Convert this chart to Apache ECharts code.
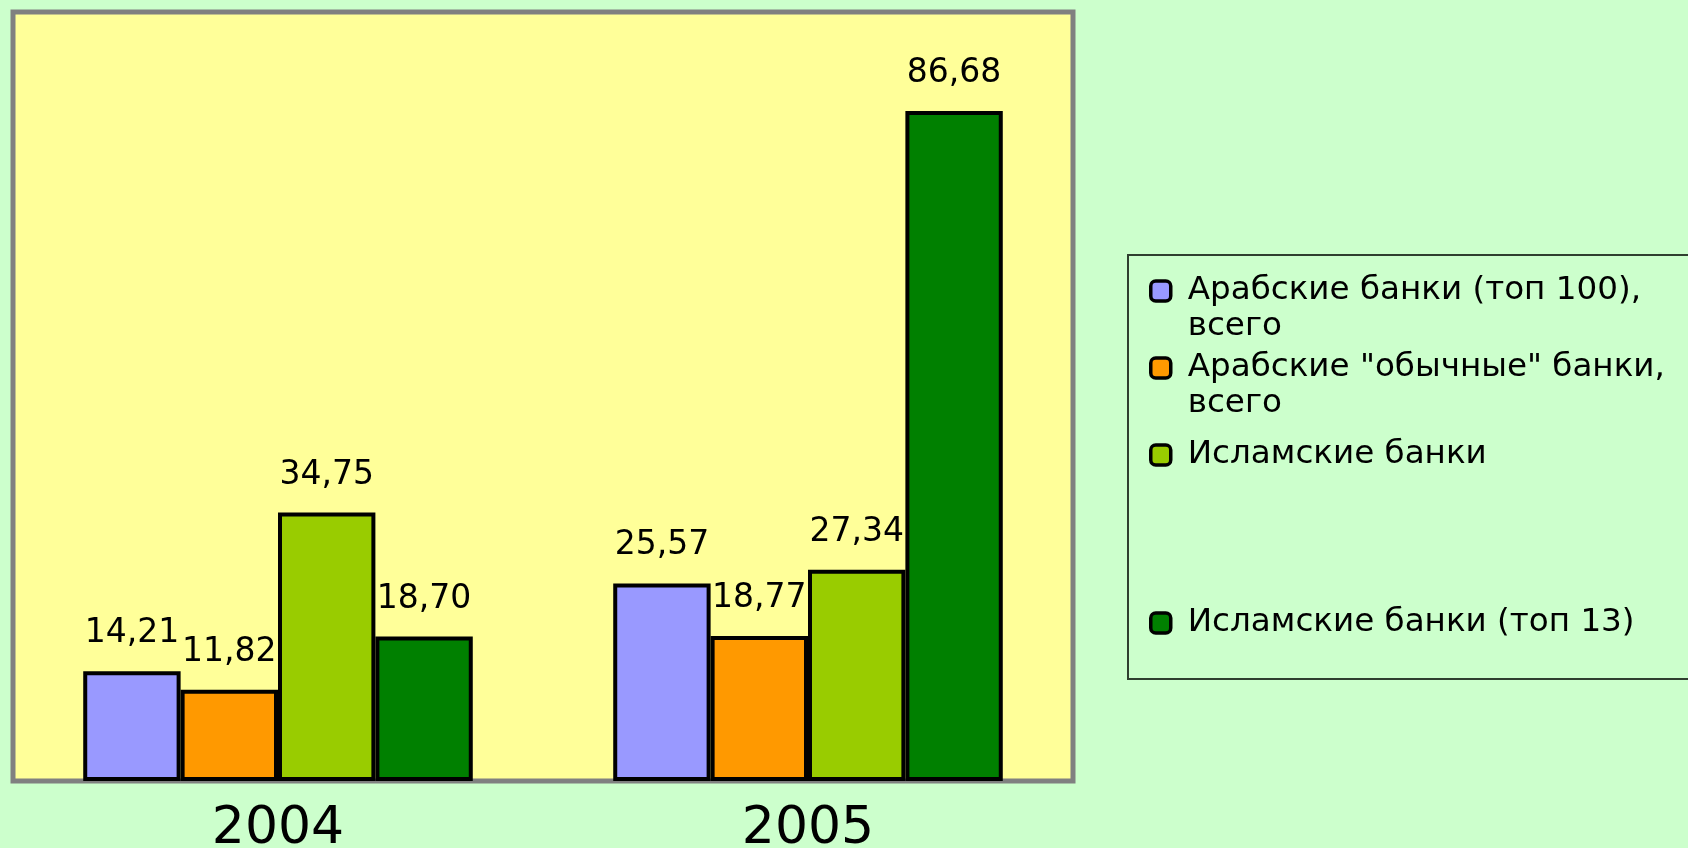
<!DOCTYPE html>
<html>
<head>
<meta charset="utf-8">
<script src="https://cdn.jsdelivr.net/npm/echarts@6/dist/echarts.min.js"></script>
<style>
html,body{margin:0;padding:0;background:#CCFFCC;}
#chart{width:1688px;height:848px;}
</style>
</head>
<body>
<div id="chart"></div>
<script>
const categories = ['2004', '2005'];
const seriesNames = [
  'Арабские банки (топ 100), всего',
  'Арабские "обычные" банки, всего',
  'Исламские банки',
  'Исламские банки (топ 13)'
];
const legendLines = [
  ['Арабские банки (топ 100),', 'всего'],
  ['Арабские "обычные" банки,', 'всего'],
  ['Исламские банки'],
  ['Исламские банки (топ 13)']
];
const arabTop100 = [14.21, 25.57];
const arabRegular = [11.82, 18.77];
const islamic = [34.75, 27.34];
const islamicTop13 = [18.70, 86.68];
const seriesValues = [arabTop100, arabRegular, islamic, islamicTop13];
const colors = ['#9999FF', '#FF9900', '#99CC00', '#008000'];

const FONT = 'DejaVu Sans';
const legendCenters = [291, 368, 455, 623];
const LH = 36;

const chart = echarts.init(document.getElementById('chart'), null, {renderer: 'canvas'});

const legends = seriesNames.map((name, i) => {
  const lines = legendLines[i];
  const multi = lines.length > 1;
  return {
    orient: 'vertical',
    left: 1149,
    top: multi ? legendCenters[i] - 1.5 * LH : legendCenters[i] - LH / 2,
    padding: 0,
    data: [name],
    icon: 'roundRect',
    itemWidth: 20,
    itemHeight: 20,
    itemStyle: {borderColor: '#000', borderWidth: 3.5},
    selectedMode: false,
    formatter: () => multi ? '\n' + lines.join('\n') : lines[0],
    textStyle: {
      fontFamily: FONT,
      fontSize: 32.6,
      lineHeight: LH,
      color: '#000',
      padding: [0, 0, 0, 12]
    }
  };
});

const option = {
  backgroundColor: '#CCFFCC',
  animation: false,
  color: colors,
  legend: legends,
  graphic: [{
    type: 'rect',
    shape: {x: 1128, y: 255, width: 640, height: 424},
    style: {fill: 'none', stroke: '#2F3F2F', lineWidth: 2},
    silent: true
  }],
  grid: {
    left: 13, right: 615, top: 12, bottom: 67,
    outerBoundsMode: 'none',
    containLabel: false,
    show: true,
    backgroundColor: '#FFFF99',
    borderColor: '#808080',
    borderWidth: 5
  },
  xAxis: {
    type: 'category',
    data: categories,
    axisLine: {show: false},
    axisTick: {show: false},
    axisLabel: {fontFamily: FONT, fontSize: 52, color: '#000', margin: 22}
  },
  yAxis: {
    type: 'value',
    min: 0, max: 99.5,
    show: false,
    splitLine: {show: false}
  },
  series: seriesNames.map((name, i) => ({
    name: name,
    type: 'bar',
    data: seriesValues[i],
    barGap: '0%',
    barCategoryGap: '26.5%',
    itemStyle: {color: colors[i], borderColor: '#000', borderWidth: 4},
    label: {
      show: true,
      position: 'top',
      distance: 21,
      fontFamily: FONT,
      fontSize: 33,
      color: '#000',
      formatter: p => p.value.toFixed(2).replace('.', ',')
    }
  }))
};
chart.setOption(option);
</script>
</body>
</html>
